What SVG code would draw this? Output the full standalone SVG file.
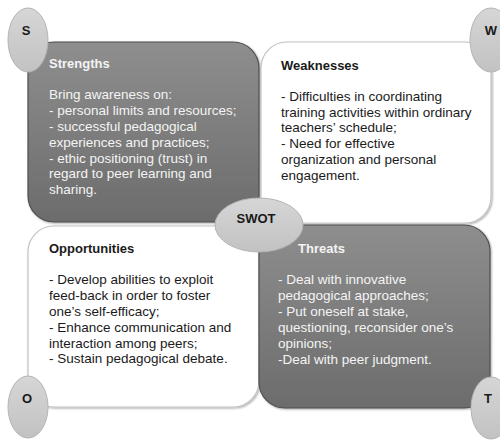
<svg xmlns="http://www.w3.org/2000/svg" width="500" height="440" viewBox="0 0 500 440">
<defs>
<linearGradient id="dark" x1="0" y1="0" x2="0" y2="1">
<stop offset="0" stop-color="#8e8e8e"/>
<stop offset="1" stop-color="#6c6c6c"/>
</linearGradient>
<linearGradient id="oval" x1="0" y1="0" x2="0" y2="1">
<stop offset="0" stop-color="#d6d6d6"/>
<stop offset="1" stop-color="#c2c2c2"/>
</linearGradient>
<filter id="sh" x="-10%" y="-10%" width="120%" height="120%">
<feGaussianBlur in="SourceAlpha" stdDeviation="1"/>
<feOffset dx="1" dy="1" result="b"/>
<feComponentTransfer><feFuncA type="linear" slope="0.35"/></feComponentTransfer>
<feMerge><feMergeNode/><feMergeNode in="SourceGraphic"/></feMerge>
</filter>
</defs>
<style>
.darkbox{fill:url(#dark);stroke:#4f4f4f;stroke-width:1.2}
.lightbox{fill:#ffffff;stroke:#c4c4c4;stroke-width:1.2}
.oval{fill:url(#oval);stroke:#b4b4b4;stroke-width:1}
text{font-family:"Liberation Sans",Arial,sans-serif}
.title{font-size:13px;font-weight:bold}
.body{font-size:13.5px}
.w{fill:#f4f4f4}
.k{fill:#1a1a1a}
.lbl{font-size:13px;font-weight:bold;fill:#1a1a1a;text-anchor:middle}
</style>
<rect width="500" height="440" fill="#ffffff"/>
<g id="strengths">
<rect class="darkbox" x="28" y="42" width="231" height="180" rx="26" filter="url(#sh)"/>
<text class="title w" x="49" y="68">Strengths</text>
<text class="body w">
<tspan x="49" y="99">Bring awareness on:</tspan>
<tspan x="49" y="115">- personal limits and resources;</tspan>
<tspan x="49" y="131">- successful pedagogical</tspan>
<tspan x="49" y="146.5">experiences and practices;</tspan>
<tspan x="49" y="162.5">- ethic positioning (trust) in</tspan>
<tspan x="49" y="178">regard to peer learning and</tspan>
<tspan x="49" y="194">sharing.</tspan>
</text>
</g>
<g id="weaknesses">
<rect class="lightbox" x="261" y="42" width="230" height="181" rx="26" filter="url(#sh)"/>
<text class="title k" x="281" y="69.5">Weaknesses</text>
<text class="body k">
<tspan x="281" y="100.5">- Difficulties in coordinating</tspan>
<tspan x="281" y="116.5">training activities within ordinary</tspan>
<tspan x="281" y="132">teachers’ schedule;</tspan>
<tspan x="281" y="148">- Need for effective</tspan>
<tspan x="281" y="164">organization and personal</tspan>
<tspan x="281" y="179.5">engagement.</tspan>
</text>
</g>
<g id="opportunities">
<rect class="lightbox" x="28" y="226" width="231" height="181" rx="26" filter="url(#sh)"/>
<text class="title k" x="49" y="253">Opportunities</text>
<text class="body k">
<tspan x="49" y="284">- Develop abilities to exploit</tspan>
<tspan x="49" y="300">feed-back in order to foster</tspan>
<tspan x="49" y="316">one’s self-efficacy;</tspan>
<tspan x="49" y="331.7">- Enhance communication and</tspan>
<tspan x="49" y="347.7">interaction among peers;</tspan>
<tspan x="49" y="363.3">- Sustain pedagogical debate.</tspan>
</text>
</g>
<g id="threats">
<rect class="darkbox" x="259" y="225" width="231" height="183" rx="26" filter="url(#sh)"/>
<text class="title w" x="298" y="253">Threats</text>
<text class="body w">
<tspan x="278" y="284">- Deal with innovative</tspan>
<tspan x="278" y="300">pedagogical approaches;</tspan>
<tspan x="278" y="316">- Put oneself at stake,</tspan>
<tspan x="278" y="332">questioning, reconsider one’s</tspan>
<tspan x="278" y="348">opinions;</tspan>
<tspan x="278" y="363.5">-Deal with peer judgment.</tspan>
</text>
</g>
<g id="connectors"/>
<g id="swot">
<ellipse class="oval" cx="259" cy="225" rx="44" ry="27"/>
<text class="lbl" x="256" y="223">SWOT</text>
</g>
<g id="s">
<ellipse class="oval" cx="28" cy="40" rx="20" ry="32"/>
<text class="lbl" x="26" y="35">S</text>
</g>
<g id="w">
<ellipse class="oval" cx="491" cy="40" rx="21" ry="32"/>
<text class="lbl" x="491" y="35">W</text>
</g>
<g id="o">
<ellipse class="oval" cx="28" cy="407" rx="20" ry="31"/>
<text class="lbl" x="27" y="403">O</text>
</g>
<g id="t">
<ellipse class="oval" cx="491" cy="408" rx="20" ry="31"/>
<text class="lbl" x="488" y="403">T</text>
</g>
</svg>
